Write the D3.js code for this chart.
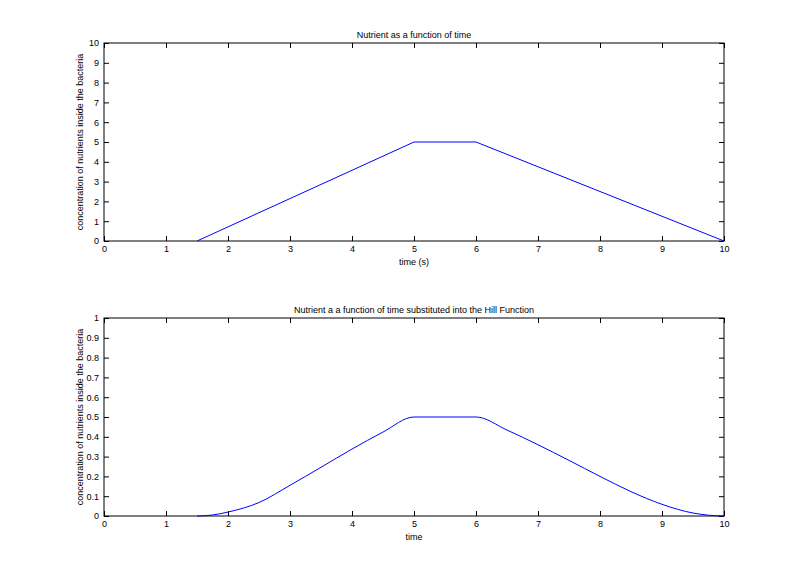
<!DOCTYPE html>
<html><head><meta charset="utf-8">
<script src="https://cdn.jsdelivr.net/npm/d3@7"></script>
<style>body{margin:0;background:#fff}text{font-family:"Liberation Sans",Arial,sans-serif;font-size:9px;fill:#000}</style>
</head><body>
<script>
var timeTop = [1.5, 5, 6, 10];
var nutrientTop = [0, 5, 5, 0];
var timeBot = [1.5, 1.75, 2, 2.5, 3, 3.5, 4, 4.5, 5, 6, 6.5, 7, 7.5, 8, 8.5, 9, 9.5, 9.75, 10];
var hillBot = [0, 0.005, 0.02, 0.068, 0.155, 0.246, 0.338, 0.424, 0.5, 0.5, 0.434, 0.36, 0.281, 0.2, 0.123, 0.059, 0.015, 0.004, 0];
var xTicks = d3.range(0, 11);
var yTicksTop = d3.range(0, 11);
var yTicksBot = d3.range(0, 11).map(function(i){ return i / 10; });

var svg = d3.select("body").append("svg").attr("width", 800).attr("height", 579);

function panel(top, yMax, yTicks, xs, ys, title, xlabel, curve){
	var left = 104, w = 620, h = 198;
	var x = d3.scaleLinear().domain([0, 10]).range([left, left + w]);
	var y = d3.scaleLinear().domain([0, yMax]).range([top + h, top]);
	var g = svg.append("g");
	g.append("rect").attr("x", left).attr("y", top).attr("width", w).attr("height", h)
		.attr("fill", "#fff").attr("stroke", "#000").attr("stroke-width", 1);
	var fmt = function(d){ return String(+d.toFixed(1)); };
	g.append("g").attr("transform", "translate(0," + (top + h) + ")")
		.call(d3.axisBottom(x).tickValues(xTicks).tickSize(-5).tickPadding(5).tickFormat(fmt));
	g.append("g").attr("transform", "translate(0," + top + ")")
		.call(d3.axisTop(x).tickValues(xTicks).tickSize(-5).tickFormat(""));
	g.append("g").attr("transform", "translate(" + left + ",0)")
		.call(d3.axisLeft(y).tickValues(yTicks).tickSize(-5).tickPadding(5).tickFormat(fmt));
	g.append("g").attr("transform", "translate(" + (left + w) + ",0)")
		.call(d3.axisRight(y).tickValues(yTicks).tickSize(-5).tickFormat(""));
	g.selectAll(".domain").remove();
	g.selectAll(".tick line").attr("stroke", "#000");
	g.selectAll(".tick text").style("font-size", "9px").attr("font-family", null);
	var line = d3.line().x(function(d, i){ return x(xs[i]); }).y(function(d){ return y(d); }).curve(curve);
	g.append("path").datum(ys).attr("d", line).attr("fill", "none").attr("stroke", "#0000ff").attr("stroke-width", 1);
	g.append("text").attr("x", left + w / 2).attr("y", top - 5).attr("text-anchor", "middle").text(title);
	g.append("text").attr("x", left + w / 2).attr("y", top + h + 24).attr("text-anchor", "middle").text(xlabel);
	g.append("text").attr("transform", "translate(" + (left - 21) + "," + (top + h / 2) + ") rotate(-90)")
		.attr("text-anchor", "middle").text("concentration of nutrients inside the bacteria");
}

panel(43, 10, yTicksTop, timeTop, nutrientTop, "Nutrient as a function of time", "time (s)", d3.curveLinear);
panel(318, 1, yTicksBot, timeBot, hillBot, "Nutrient a a function of time substituted into the Hill Function", "time", d3.curveMonotoneX);
</script>
</body></html>
